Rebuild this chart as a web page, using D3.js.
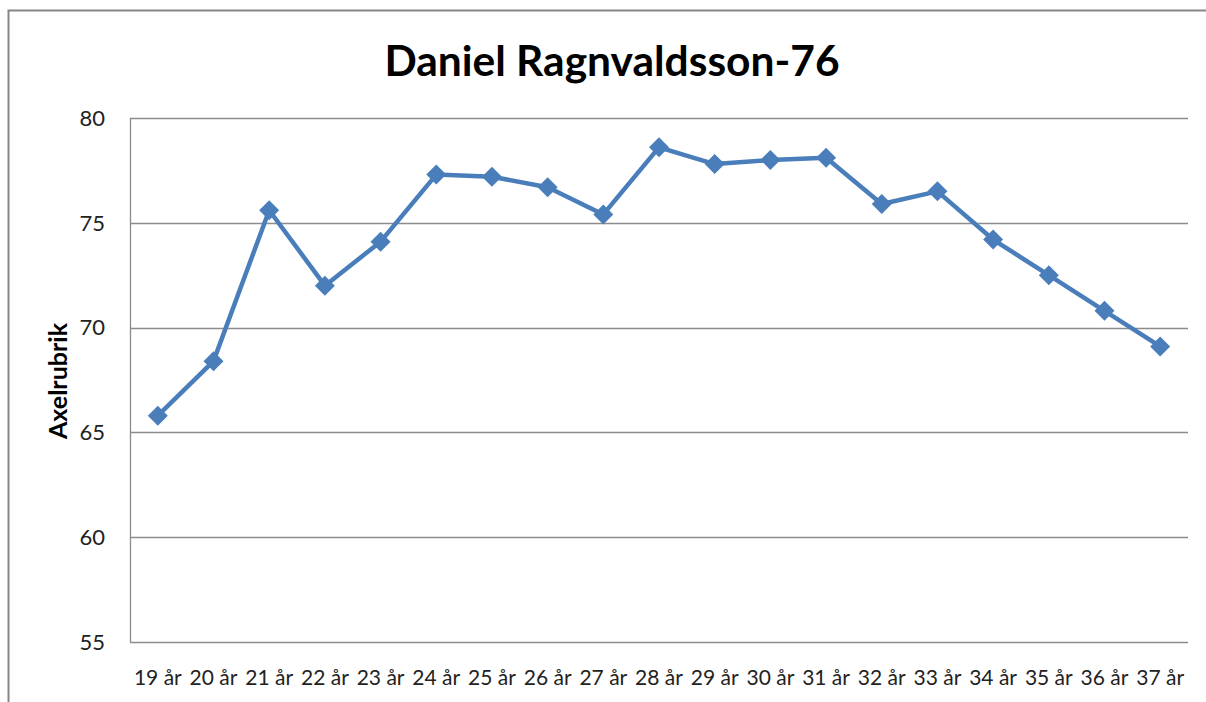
<!DOCTYPE html>
<html><head><meta charset="utf-8">
<script src="https://cdn.jsdelivr.net/npm/d3@7"></script>
<style>body{margin:0;background:#fff;}svg{display:block;}</style>
</head><body>
<svg id="c" width="1206" height="702"></svg>
<script>
const categories = ["19 år","20 år","21 år","22 år","23 år","24 år","25 år","26 år","27 år","28 år","29 år","30 år","31 år","32 år","33 år","34 år","35 år","36 år","37 år"];
const values = [65.8,68.4,75.6,72.0,74.1,77.3,77.2,76.7,75.4,78.6,77.8,78.0,78.1,75.9,76.5,74.2,72.5,70.8,69.1];
const yTicks = [55,60,65,70,75,80];
const titleText = "Daniel Ragnvaldsson-76";
const yAxisTitle = "Axelrubrik";

const svg = d3.select("#c");
const font = "Lato, 'Open Sans', sans-serif";
const m = {left:130, right:1188, top:118, bottom:642};

// outer border
svg.append("rect").attr("x",8.5).attr("y",10.5).attr("width",1220).attr("height",720)
  .attr("fill","none").attr("stroke","#868686").attr("stroke-width",2);

const x = d3.scaleBand().domain(categories).range([m.left,m.right]);
const y = d3.scaleLinear().domain([55,80]).range([m.bottom,m.top]);

// gridlines
svg.append("g").selectAll("line").data(yTicks).join("line")
  .attr("x1",m.left).attr("x2",m.right)
  .attr("y1",d=>Math.round(y(d))+0.5).attr("y2",d=>Math.round(y(d))+0.5)
  .attr("stroke","#8c8c8c").attr("stroke-width",1.3);
// left axis line
svg.append("line").attr("x1",m.left+0.5).attr("x2",m.left+0.5).attr("y1",m.top).attr("y2",m.bottom)
  .attr("stroke","#8c8c8c").attr("stroke-width",1.3);

// y tick labels
svg.append("g").selectAll("text").data(yTicks).join("text")
  .attr("x",105).attr("y",d=>y(d)).attr("dy","0.35em").attr("text-anchor","end")
  .attr("font-family",font).attr("font-size",22).attr("fill","#222").text(d=>d);

// x labels
svg.append("g").selectAll("text").data(categories).join("text")
  .attr("x",d=>x(d)+x.bandwidth()/2).attr("y",685).attr("text-anchor","middle")
  .attr("font-family",font).attr("font-size",21).attr("fill","#222").text(d=>d);

// title
svg.append("text").attr("x",612).attr("y",76).attr("text-anchor","middle")
  .attr("font-family",font).attr("font-weight","bold").attr("font-size",42.5).attr("fill","#000").text(titleText);

// y axis title
svg.append("text").attr("transform","translate(67,381) rotate(-90)").attr("text-anchor","middle")
  .attr("font-family",font).attr("font-weight","bold").attr("font-size",25).attr("fill","#000").text(yAxisTitle);

const cx = (d,i)=>x(categories[i])+x.bandwidth()/2;
const line = d3.line().x((d,i)=>cx(d,i)).y(d=>y(d));
svg.append("path").datum(values).attr("d",line).attr("fill","none")
  .attr("stroke","#4a7ebb").attr("stroke-width",4.5).attr("stroke-linejoin","round");

const sym = d3.symbol().type(d3.symbolSquare).size(200);
svg.append("g").selectAll("path").data(values).join("path")
  .attr("d",sym)
  .attr("transform",(d,i)=>`translate(${cx(d,i)},${y(d)}) rotate(45)`)
  .attr("fill","#4a7ebb");
</script>
</body></html>
